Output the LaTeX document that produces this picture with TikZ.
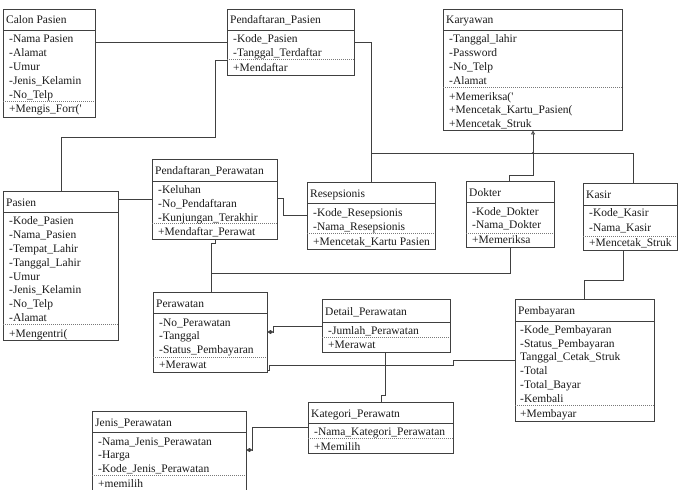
\documentclass[tikz,border=0pt]{standalone}
\usepackage{fontspec}
\setmainfont{Liberation Serif}
\usetikzlibrary{fit,arrows.meta}
\definecolor{ln}{HTML}{404040}
\definecolor{tx}{HTML}{1A1A1A}
\tikzset{
  box/.style={draw=ln, line width=0.8pt, inner sep=0pt, fill=white},
  hline/.style={draw=ln, line width=0.8pt},
  sepline/.style={draw=ln!70, line width=0.5pt, dash pattern=on 1pt off 1pt},
  conn/.style={draw=ln, line width=0.8pt},
  txt/.style={anchor=base west, inner sep=0pt, text=tx, font=\fontsize{11.5}{14}\selectfont},
  dia/.style={-{Diamond[length=6pt,width=4pt]}},
  gen/.style={-{Triangle[open,length=4pt,width=4pt]}},
}
% name, x1, y1, x2, y2, header line y, dotted separator y
\newcommand{\umlbox}[7]{%
  \node[box, fit={(#2,#3)(#4,#5)}] (#1) {};
  \draw[hline] (#2,#6) -- (#4,#6);
  \draw[sepline] (#2,#7) -- (#4,#7);
}
\begin{document}
\begin{tikzpicture}[x=1pt,y=-1pt]
\useasboundingbox (0,0) rectangle (689,490);

% ---------------- boxes ----------------
\umlbox{cp}{3}{9}{95}{117}{30}{101}
\node[txt] (cp0) at (6,23) {Calon Pasien};
\node[txt] (cp1) at (9,42) {-Nama Pasien};
\node[txt] (cp2) at (9,56) {-Alamat};
\node[txt] (cp3) at (9,70) {-Umur};
\node[txt] (cp4) at (9,84) {-Jenis\_Kelamin};
\node[txt] (cp5) at (9,98) {-No\_Telp};
\node[txt] (cp6) at (9,112) {+Mengis\_Forr(\textquotesingle};

\umlbox{pp}{227}{9}{354}{75}{30}{59}
\node[txt] (pp0) at (230,23) {Pendaftaran\_Pasien};
\node[txt] (pp1) at (233,42) {-Kode\_Pasien};
\node[txt] (pp2) at (233,56) {-Tanggal\_Terdaftar};
\node[txt] (pp3) at (233,71) {+Mendaftar};

\umlbox{ka}{443}{9}{622}{130}{30}{87}
\node[txt] (ka0) at (446,23) {Karyawan};
\node[txt] (ka1) at (449,42) {-Tanggal\_lahir};
\node[txt] (ka2) at (449,56) {-Password};
\node[txt] (ka3) at (449,70) {-No\_Telp};
\node[txt] (ka4) at (449,84) {-Alamat};
\node[txt] (ka5) at (449,100) {+Memeriksa(\textquotesingle};
\node[txt] (ka6) at (449,113) {+Mencetak\_Kartu\_Pasien(};
\node[txt] (ka7) at (449,127) {+Mencetak\_Struk};

\umlbox{pa}{3}{191}{118}{340}{212}{324}
\node[txt] (pa0) at (6,206) {Pasien};
\node[txt] (pa1) at (9,224) {-Kode\_Pasien};
\node[txt] (pa2) at (9,238) {-Nama\_Pasien};
\node[txt] (pa3) at (9,252) {-Tempat\_Lahir};
\node[txt] (pa4) at (9,266) {-Tanggal\_Lahir};
\node[txt] (pa5) at (9,280) {-Umur};
\node[txt] (pa6) at (9,293) {-Jenis\_Kelamin};
\node[txt] (pa7) at (9,307) {-No\_Telp};
\node[txt] (pa8) at (9,321) {-Alamat};
\node[txt] (pa9) at (9,337) {+Mengentri(};

\umlbox{pr}{152}{159}{277}{239}{181}{223}
\node[txt] (pr0) at (155,174) {Pendaftaran\_Perawatan};
\node[txt] (pr1) at (158,193) {-Keluhan};
\node[txt] (pr2) at (158,207) {-No\_Pendaftaran};
\node[txt] (pr3) at (158,221) {-Kunjungan\_Terakhir};
\node[txt] (pr4) at (158,235) {+Mendaftar\_Perawat};

\umlbox{re}{307}{182}{435}{249}{203}{233}
\node[txt] (re0) at (310,197) {Resepsionis};
\node[txt] (re1) at (313,216) {-Kode\_Resepsionis};
\node[txt] (re2) at (313,230) {-Nama\_Resepsionis};
\node[txt] (re3) at (313,245) {+Mencetak\_Kartu Pasien};

\umlbox{dk}{466}{181}{554}{247}{202}{233}
\node[txt] (dk0) at (469,196) {Dokter};
\node[txt] (dk1) at (472,215) {-Kode\_Dokter};
\node[txt] (dk2) at (472,228) {-Nama\_Dokter};
\node[txt] (dk3) at (472,243) {+Memeriksa};

\umlbox{ks}{583}{183}{677}{250}{205}{236}
\node[txt] (ks0) at (586,198) {Kasir};
\node[txt] (ks1) at (589,216) {-Kode\_Kasir};
\node[txt] (ks2) at (589,231) {-Nama\_Kasir};
\node[txt] (ks3) at (589,246) {+Mencetak\_Struk};

\umlbox{pw}{153}{292}{267}{372}{313}{357}
\node[txt] (pw0) at (156,307) {Perawatan};
\node[txt] (pw1) at (159,326) {-No\_Perawatan};
\node[txt] (pw2) at (159,339) {-Tanggal};
\node[txt] (pw3) at (159,353) {-Status\_Pembayaran};
\node[txt] (pw4) at (159,368) {+Merawat};

\umlbox{dp}{322}{299}{450}{352}{322}{337}
\node[txt] (dp0) at (325,315) {Detail\_Perawatan};
\node[txt] (dp1) at (328,334) {-Jumlah\_Perawatan};
\node[txt] (dp2) at (328,348) {+Merawat};

\umlbox{pb}{515}{299}{654}{421}{321}{405}
\node[txt] (pb0) at (518,314) {Pembayaran};
\node[txt] (pb1) at (520,333) {-Kode\_Pembayaran};
\node[txt] (pb2) at (520,347) {-Status\_Pembayaran};
\node[txt] (pb3) at (520,360) {Tanggal\_Cetak\_Struk};
\node[txt] (pb4) at (520,374) {-Total};
\node[txt] (pb5) at (520,388) {-Total\_Bayar};
\node[txt] (pb6) at (520,402) {-Kembali};
\node[txt] (pb7) at (520,417) {+Membayar};

\umlbox{kp}{308}{402}{453}{453}{423}{438}
\node[txt] (kp0) at (311,417) {Kategori\_Perawatn};
\node[txt] (kp1) at (314,435) {-Nama\_Kategori\_Perawatan};
\node[txt] (kp2) at (314,450) {+Memilih};

\umlbox{jp}{92}{411}{246}{500}{432}{475}
\node[txt] (jp0) at (95,426) {Jenis\_Perawatan};
\node[txt] (jp1) at (98,445) {-Nama\_Jenis\_Perawatan};
\node[txt] (jp2) at (98,458) {-Harga};
\node[txt] (jp3) at (98,472) {-Kode\_Jenis\_Perawatan};
\node[txt] (jp4) at (98,487) {+memilih};

% ---------------- connectors ----------------
\draw[conn] (cp.east |- 0,42) -- (pp.west |- 0,42);
\draw[conn] (pp.west |- 0,60) -| (215,137) -- (61,137) -- (pa.north -| 61,0);
\draw[conn] (pp.east |- 0,42) -| (re.north -| 371,0);

\coordinate (g) at (533,153);
\draw[conn,gen] (g) -- (ka.south -| 533,0);
\draw[conn] (g) -- (371,153);
\draw[conn] (g) -| (ks.north -| 633,0);
\draw[conn] (g) |- (509,175) -- (dk.north -| 509,0);
\fill[ln] (g) circle (1.2pt);

\draw[conn] (pa.east |- 0,199) -- (pr.west |- 0,199);
\draw[conn] (pr.east |- 0,198) -| (283,215) -- (re.west |- 0,215);
\draw[conn] (pr.south -| 215,0) -- (215,243) -| (pw.north -| 211,0);
\draw[conn] (dk.south -| 510,0) |- (211,273);

\draw[conn,dia] (dp.west |- 0,326) -| (273,332) -- (pw.east |- 0,332);
\draw[conn] (pw.east |- 0,370) -| (269,365) -| (453,360) -- (pb.west |- 0,360);
\draw[conn] (dp.south -| 385,0) |- (381,395) -- (kp.north -| 381,0);
\draw[conn] (ks.south -| 623,0) |- (584,280) -- (pb.north -| 584,0);
\draw[conn,dia] (kp.west |- 0,427) -| (252,450) -- (jp.east |- 0,450);
\end{tikzpicture}
\end{document}
